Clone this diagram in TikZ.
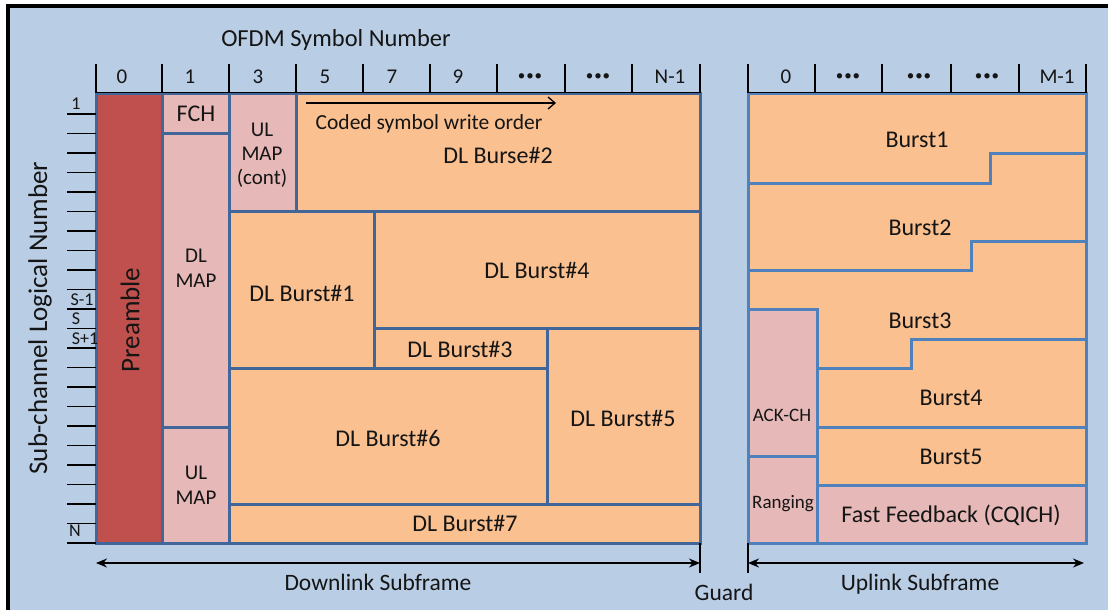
\documentclass[tikz,border=0pt]{standalone}
\usepackage{fontspec}
\setmainfont{Carlito}
\usetikzlibrary{arrows.meta}
\definecolor{bgblue}{HTML}{B9CDE5}
\definecolor{edgeblue}{HTML}{41679A}
\definecolor{uledge}{HTML}{4F81BD}
\definecolor{burst}{HTML}{FAC090}
\definecolor{ctrl}{HTML}{E6B9B8}
\definecolor{pre}{HTML}{C0504D}
\definecolor{ink}{HTML}{151515}
\newcommand{\fsz}[1]{\fontsize{#1}{#1}\selectfont}
\newcommand{\dotrow}{{\fsz{15}•\kern1pt•\kern1pt•}}
\tikzset{
  dlbox/.style={draw=edgeblue, line width=3pt},
  ulline/.style={draw=uledge, line width=3pt},
  lbl/.style={text=ink, font=\fsz{24}, inner sep=0pt, align=center},
  small/.style={text=ink, font=\fsz{21}, inner sep=0pt, align=center},
  hdr/.style={text=ink, font=\fsz{21}, inner sep=0pt},
  axl/.style={text=ink, font=\fsz{18}, inner sep=0pt},
  tick/.style={draw=black, line width=2pt},
  span/.style={draw=black, line width=1.5pt, {Stealth[length=11pt,width=9pt]}-{Stealth[length=11pt,width=9pt]}},
}
\begin{document}
\begin{tikzpicture}[x=1pt,y=-1pt]
\useasboundingbox (0,0) rectangle (1108,610);
% page background and frame
\fill[bgblue] (8,6) rectangle (1108,610);
\draw[black, line width=3.5pt] (8,612) -- (8,6) -- (1110,6);

% ---------- downlink subframe ----------
\filldraw[dlbox, fill=pre]   (96,93) rectangle (162,543);
\filldraw[dlbox, fill=ctrl]  (162,93) rectangle (229,133);
\filldraw[dlbox, fill=ctrl]  (162,133) rectangle (229,427);
\filldraw[dlbox, fill=ctrl]  (162,427) rectangle (229,543);
\filldraw[dlbox, fill=ctrl]  (229,93) rectangle (296,211);
\filldraw[dlbox, fill=burst] (296,93) rectangle (700,211);
\filldraw[dlbox, fill=burst] (229,211) rectangle (374,368);
\filldraw[dlbox, fill=burst] (374,211) rectangle (700,328);
\filldraw[dlbox, fill=burst] (374,328) rectangle (547,368);
\filldraw[dlbox, fill=burst] (547,328) rectangle (700,504);
\filldraw[dlbox, fill=burst] (229,368) rectangle (547,504);
\filldraw[dlbox, fill=burst] (229,504) rectangle (700,543);

\node[lbl, font=\fsz{27}, rotate=90] (preamble) at (130,320) {Preamble};
\node[lbl] (fch) at (196,114) {FCH};
\node[small] (dlmap) at (196,268) {DL\\[4pt]MAP};
\node[small] (ulmap) at (196,485) {UL\\[4pt]MAP};
\node[small] (ulmapc) at (262,155) {UL\\[3pt]MAP\\[3pt](cont)};
\node[lbl] (b2) at (498,155) {DL Burse\#2};
\node[lbl] (b1) at (302,293) {DL Burst\#1};
\node[lbl] (b4) at (537,270) {DL Burst\#4};
\node[lbl] (b3) at (460,349) {DL Burst\#3};
\node[lbl] (b5) at (623,418) {DL Burst\#5};
\node[lbl] (b6) at (388,438) {DL Burst\#6};
\node[lbl] (b7) at (465,523) {DL Burst\#7};

% write-order arrow
\coordinate (wo1) at (306,103);
\coordinate (wo2) at (556,103);
\draw[black, line width=1.3pt, -{Straight Barb[length=7pt,width=12pt]}] (wo1) -- (wo2);
\node[lbl, font=\fsz{21.5}] (wotext) at (429,124) {Coded symbol write order};

% ---------- uplink subframe ----------
\filldraw[ulline, fill=burst] (748,93) rectangle (1086,543);
\draw[ulline] (748,183) -- (990,183) -- (990,153) -- (1086,153);
\draw[ulline] (748,270) -- (971,270) -- (971,241) -- (1086,241);
\draw[ulline] (817,368) -- (911,368) -- (911,339) -- (1086,339);
\draw[ulline] (817,427) -- (1086,427);
\filldraw[ulline, fill=ctrl] (748,309) rectangle (817,456);
\filldraw[ulline, fill=ctrl] (748,456) rectangle (817,543);
\draw[ulline] (817,456) -- (817,485);
\filldraw[ulline, fill=ctrl] (817,485) rectangle (1086,543);

\node[lbl] (u1) at (917,140) {Burst1};
\node[lbl] (u2) at (920,228) {Burst2};
\node[lbl] (u3) at (920,321) {Burst3};
\node[lbl] (u4) at (951,398) {Burst4};
\node[lbl] (u5) at (951,457) {Burst5};
\node[lbl, font=\fsz{19}] (ack) at (782,415) {ACK-CH};
\node[lbl, font=\fsz{19}] (rng) at (783,504) {Ranging};
\node[lbl] (ff) at (951,515) {Fast Feedback (CQICH)};

% ---------- symbol-number axis ----------
\node[lbl, font=\fsz{24.5}] (ofdm) at (336,40) {OFDM Symbol Number};
\draw[black, line width=1.5pt] (96,92.5) -- (700,92.5);
\draw[black, line width=1.5pt] (748,92.5) -- (1086,92.5);
\foreach \x in {96,162,229,296,363,430,497,565,632,700,748,815,882,951,1019,1086}
  \draw[tick] (\x,64) -- (\x,93);
\foreach \x/\t [count=\i] in {122/0,190/1,258/3,325/5,392/7,458/9,530/\dotrow,598/\dotrow,670/N-1,
                              786/0,848/\dotrow,919/\dotrow,987/\dotrow,1057/M-1}
  \node[hdr] (h\i) at (\x,77) {\t};

% ---------- sub-channel axis ----------
\foreach \k in {0,...,22}
  \draw[tick, line width=1.6pt] (67,{114+19.5*\k}) -- (96,{114+19.5*\k});
\node[axl] (s1) at (76,104) {1};
\node[axl] (sm) at (82,300) {S-1};
\node[axl] (s0) at (76,319) {S};
\node[axl] (sp) at (85,339) {S+1};
\node[axl] (sn) at (75,531) {N};
\node[lbl, font=\fsz{27}, rotate=90] (yax) at (40,318) {Sub-channel Logical Number};

% ---------- subframe spans ----------
\coordinate (dlL) at (96,563);
\coordinate (dlR) at (700,563);
\coordinate (ulL) at (748,563);
\coordinate (ulR) at (1084,563);
\coordinate (g1t) at (700,543);
\coordinate (g1b) at (700,573);
\coordinate (g2t) at (748,543);
\coordinate (g2b) at (748,573);
\draw[black, line width=1.5pt] (g1t) -- (g1b);
\draw[black, line width=1.5pt] (g2t) -- (g2b);
\draw[span] (dlL) -- (dlR);
\draw[span] (ulL) -- (ulR);
\node[lbl, font=\fsz{23.5}] (dltext) at (378,582) {Downlink Subframe};
\node[lbl, font=\fsz{23.5}] (guard) at (724,592) {Guard};
\node[lbl, font=\fsz{23.5}] (ultext) at (920,584) {Uplink Subframe};
\end{tikzpicture}
\end{document}
